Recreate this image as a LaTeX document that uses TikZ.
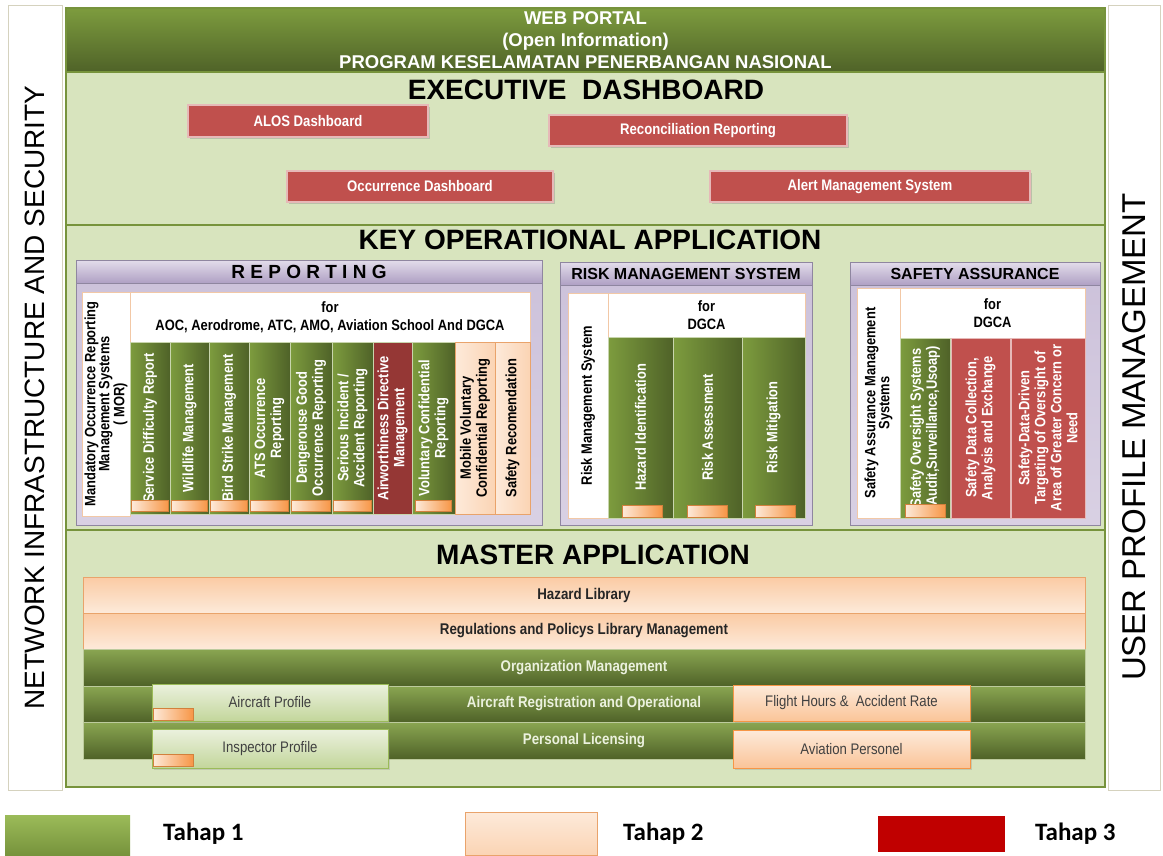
\documentclass[tikz,border=0pt]{standalone}
\usepackage{fontspec}
\setmainfont{Liberation Sans}
\newfontfamily\narrowfont[FakeStretch=0.86]{Liberation Sans}
\newfontfamily\legendfont{Carlito}
\usetikzlibrary{shadows}

\definecolor{oliveline}{HTML}{77933C}
\definecolor{darkolive}{HTML}{4F6228}
\definecolor{midolive}{HTML}{7D9C3E}
\definecolor{panelgreen}{HTML}{D8E4BE}
\definecolor{btnred}{HTML}{C0504D}
\definecolor{btnedge}{HTML}{E6B9B8}
\definecolor{wine}{HTML}{953735}
\definecolor{lavender}{HTML}{CCC1DA}
\definecolor{lavdark}{HTML}{AFA0C4}
\definecolor{lavedge}{HTML}{8F86A0}
\definecolor{peach}{HTML}{FBD4B4}
\definecolor{peachlight}{HTML}{FDEADA}
\definecolor{peachedge}{HTML}{E9A36B}
\definecolor{tangerine}{HTML}{F79646}
\definecolor{paleleaf}{HTML}{EBF1DE}
\definecolor{leaf}{HTML}{C3D69B}
\definecolor{leafedge}{HTML}{9BBB59}
\definecolor{sideedge}{HTML}{D5D2BE}
\definecolor{stagered}{HTML}{C00000}

\begin{document}
\begin{tikzpicture}[
    x=1pt, y=-1pt,
    sz/.style 2 args={minimum width=#1pt, minimum height=#2pt},
    side/.style={
        draw=sideedge,
        line width=1pt,
        fill=white,
        inner sep=0pt
    },
    panel/.style={
        draw=oliveline,
        line width=1.6pt,
        fill=panelgreen,
        inner sep=0pt
    },
    portal/.style={
        draw=oliveline,
        line width=1.6pt,
        top color=midolive,
        bottom color=darkolive,
        text=white,
        align=center,
        inner sep=0pt,
        font=\bfseries\fontsize{18.5}{22}\selectfont
    },
    title/.style={font=\bfseries\fontsize{28}{30}\selectfont},
    button/.style={
        draw=btnedge,
        line width=1.2pt,
        fill=btnred,
        text=white,
        inner sep=0pt,
        drop shadow={opacity=0.35, shadow xshift=2pt, shadow yshift=-2pt},
        font=\narrowfont\bfseries\fontsize{15.3}{17}\selectfont
    },
    group/.style={
        draw=lavedge,
        line width=0.8pt,
        top color=lavender,
        bottom color=lavender!75!white,
        inner sep=0pt
    },
    ghead/.style={
        draw=lavedge,
        line width=0.8pt,
        top color=lavender!55!white,
        bottom color=lavdark,
        inner sep=0pt,
        font=\bfseries\fontsize{16}{18}\selectfont
    },
    sysname/.style={
        draw=peachedge!60,
        line width=0.6pt,
        fill=white,
        rotate=90,
        align=center,
        inner sep=1pt,
        font=\narrowfont\bfseries\fontsize{15}{13.8}\selectfont
    },
    forbox/.style={
        draw=peachedge!60,
        line width=0.6pt,
        fill=white,
        align=center,
        inner sep=0pt,
        font=\narrowfont\bfseries\fontsize{15}{18}\selectfont
    },
    gcol/.style={
        draw=paleleaf!70!oliveline,
        line width=0.6pt,
        left color=midolive,
        right color=darkolive,
        text=white,
        rotate=90,
        align=center,
        inner sep=1pt,
        font=\narrowfont\bfseries\fontsize{15}{16}\selectfont
    },
    rcol/.style={gcol, left color=btnred, right color=btnred, draw=btnedge},
    wcol/.style={gcol, left color=wine, right color=wine},
    pcol/.style={gcol, left color=peachlight, right color=peach, draw=peachedge, text=black},
    tab/.style={
        draw=tangerine!85!black,
        line width=0.6pt,
        left color=peachlight,
        right color=tangerine,
        inner sep=0pt
    },
    pbar/.style={
        draw=peachedge,
        line width=0.6pt,
        top color=peach!85!tangerine,
        bottom color=peachlight,
        text=black!85,
        inner sep=0pt,
        font=\narrowfont\bfseries\fontsize{15.5}{17}\selectfont
    },
    gbar/.style={
        draw=paleleaf!60!oliveline,
        line width=0.6pt,
        top color=midolive!90!white,
        bottom color=darkolive,
        text=paleleaf,
        inner sep=0pt,
        font=\narrowfont\bfseries\fontsize{15.5}{17}\selectfont
    },
    profile/.style={
        draw=leafedge,
        line width=0.8pt,
        top color=paleleaf,
        bottom color=leaf,
        text=black!75,
        inner sep=0pt,
        drop shadow={opacity=0.25, shadow xshift=1.5pt, shadow yshift=-1.5pt},
        font=\narrowfont\fontsize{15.3}{17}\selectfont
    },
    stat/.style={profile, draw=tangerine, top color=peachlight, bottom color=peach!75!tangerine},
    key/.style={inner sep=0pt},
    keytext/.style={anchor=west, inner sep=0pt, font=\legendfont\bfseries\fontsize{25}{28}\selectfont}
]
\useasboundingbox (0,0) rectangle (1163,855);

% Side strips.
\node[side, sz={785}{54}, rotate=90, font=\fontsize{28}{30}\selectfont] (netsec) at (35,397.5) {NETWORK INFRASTRUCTURE AND SECURITY};
\node[side, sz={52}{785}] (userbox) at (1134,397.5) {};
\node[rotate=90, font=\fontsize{33}{35}\selectfont] (user) at (1134,437) {USER PROFILE MANAGEMENT};

% Portal and dashboard.
\node[portal, sz={1039}{64}] (portal) at (585.5,40) {WEB PORTAL\\(Open Information)\\PROGRAM KESELAMATAN PENERBANGAN NASIONAL};
\node[panel, sz={1039}{153}] (exec) at (585.5,148.5) {};
\node[title] (exectitle) at (586,90) {EXECUTIVE\ \ DASHBOARD};

\node[button, sz={240}{32}] (alos) at (308,121) {ALOS Dashboard};
\node[button, sz={298}{31}] (recon) at (698,130.5) {Reconciliation Reporting};
\node[button, sz={266}{31}] (occur) at (420,186.5) {Occurrence Dashboard};
\node[button, sz={320}{31}] (alert) at (870,186.5) {Alert Management System};

% Key operational application.
\node[panel, sz={1039}{305}] (keyop) at (585.5,377.5) {};
\node[title] (keytitle) at (590,240) {KEY OPERATIONAL APPLICATION};

% Reporting.
\node[group, sz={466}{265}] (rep) at (309,392.5) {};
\node[ghead, sz={466}{23}, font=\bfseries\fontsize{19}{21}\selectfont] (rephead) at (309,271.5) {R E P O R T I N G};
\node[sysname, sz={224}{48}] (mor) at (106,404) {Mandatory Occurrence Reporting\\Management Systems\\( MOR)};
\node[forbox, sz={400}{50}] (repfor) at (330,317) {for\\AOC, Aerodrome, ATC, AMO, Aviation School And DGCA};

\node[gcol, sz={172}{40}] (sdr) at (150,428) {Service Difficulty Report};
\node[gcol, sz={172}{39}] (wild) at (189.5,428) {Wildlife Management};
\node[gcol, sz={172}{40}] (bird) at (229,428) {Bird Strike Management};
\node[gcol, sz={172}{41}] (ats) at (269.5,428) {ATS Occurrence\\Reporting};
\node[gcol, sz={172}{42}] (dgr) at (311,428) {Dengerouse Good\\Occurrence Reporting};
\node[gcol, sz={172}{41}] (sia) at (352.5,428) {Serious Incident /\\Accident Reporting};
\node[wcol, sz={172}{39}] (adm) at (392.5,428) {Airworthiness Directive\\Management};
\node[gcol, sz={172}{43}] (vcr) at (433.5,428) {Voluntary Confidential\\Reporting};
\node[pcol, sz={172}{40}] (mvcr) at (475,428) {Mobile Voluntary\\Confidential Reporting};
\node[pcol, sz={172}{35}] (srec) at (512.5,428) {Safety Recomendation};

\node[tab, sz={37}{11}] (sdrtab) at (150,505.5) {};
\node[tab, sz={36}{11}] (wildtab) at (189.5,505.5) {};
\node[tab, sz={37}{11}] (birdtab) at (229,505.5) {};
\node[tab, sz={38}{11}] (atstab) at (269.5,505.5) {};
\node[tab, sz={39}{11}] (dgrtab) at (311,505.5) {};
\node[tab, sz={38}{11}] (siatab) at (352.5,505.5) {};
\node[tab, sz={36}{11}] (vcrtab) at (433.5,505.5) {};

% Risk management.
\node[group, sz={252}{263}] (risk) at (686,393.5) {};
\node[ghead, sz={252}{23}] (riskhead) at (686,273.5) {RISK MANAGEMENT SYSTEM};
\node[sysname, sz={225}{40}] (rms) at (588,405.5) {Risk Management System};
\node[forbox, sz={197}{44}] (riskfor) at (706.5,315) {for\\DGCA};

\node[gcol, sz={181}{65}] (hazid) at (640.5,427.5) {Hazard Identification};
\node[gcol, sz={181}{69}] (riskass) at (707.5,427.5) {Risk Assessment};
\node[gcol, sz={181}{63}] (riskmit) at (773.5,427.5) {Risk Mitigation};

\node[tab, sz={40}{12}] (hazidtab) at (642,511) {};
\node[tab, sz={40}{12}] (riskasstab) at (707,511) {};
\node[tab, sz={40}{12}] (riskmittab) at (775,511) {};

% Safety assurance.
\node[group, sz={250}{263}] (safe) at (975,393.5) {};
\node[ghead, sz={250}{23}] (safehead) at (975,273.5) {SAFETY ASSURANCE};
\node[sysname, sz={230}{43}] (sams) at (878.5,403) {Safety Assurance Management\\Systems};
\node[forbox, sz={185}{50}] (safefor) at (992.5,313) {for\\DGCA};

\node[gcol, sz={180}{50}] (sos) at (925,428) {Safety Oversight Systems\\(Audit,Surveillance,Usoap)};
\node[rcol, sz={180}{59}] (sdc) at (980.5,428) {Safety Data Collection,\\Analysis and Exchange};
\node[rcol, sz={180}{74}] (sdd) at (1048,428) {Safety-Data-Driven\\Targeting of Oversight of\\Area of Greater Concern or\\Need};

\node[tab, sz={40}{13}] (sostab) at (925,510.5) {};

% Master application.
\node[panel, sz={1039}{257}] (master) at (585.5,658.5) {};
\node[title] (mastertitle) at (593,555) {MASTER APPLICATION};

\node[pbar, sz={1002}{36}] (hazlib) at (584,595) {Hazard Library};
\node[pbar, sz={1002}{36}] (reglib) at (584,631) {Regulations and Policys Library Management};
\node[gbar, sz={1002}{37}] (org) at (584,667.5) {Organization Management};
\node[gbar, sz={1002}{36}] (acreg) at (584,704) {Aircraft Registration and Operational};
\node[gbar, sz={1002}{37}] (perslic) at (584,740.5) {Personal Licensing};

\node[profile, sz={236}{37}] (acprof) at (270,702.5) {Aircraft Profile};
\node[profile, sz={236}{39}] (inprof) at (270,748.5) {Inspector Profile};
\node[tab, sz={40}{12}] (acproftab) at (173,714) {};
\node[tab, sz={40}{12}] (inproftab) at (173,760) {};
\node[stat, sz={237}{36}] (flight) at (851.5,703) {Flight Hours \&\ \ Accident Rate};
\node[stat, sz={237}{38}] (avpers) at (851.5,749) {Aviation Personel};

% Legend.
\node[key, sz={125}{40}, top color=leafedge, bottom color=oliveline] (key1) at (67.5,835) {};
\node[keytext] (key1text) at (163,834) {Tahap 1};
\node[key, sz={132}{43}, draw=peachedge, top color=peachlight, bottom color=peach] (key2) at (531,833.5) {};
\node[keytext] (key2text) at (623,834) {Tahap 2};
\node[key, sz={127}{36}, fill=stagered] (key3) at (941.5,834) {};
\node[keytext] (key3text) at (1035,834) {Tahap 3};

\end{tikzpicture}
\end{document}
